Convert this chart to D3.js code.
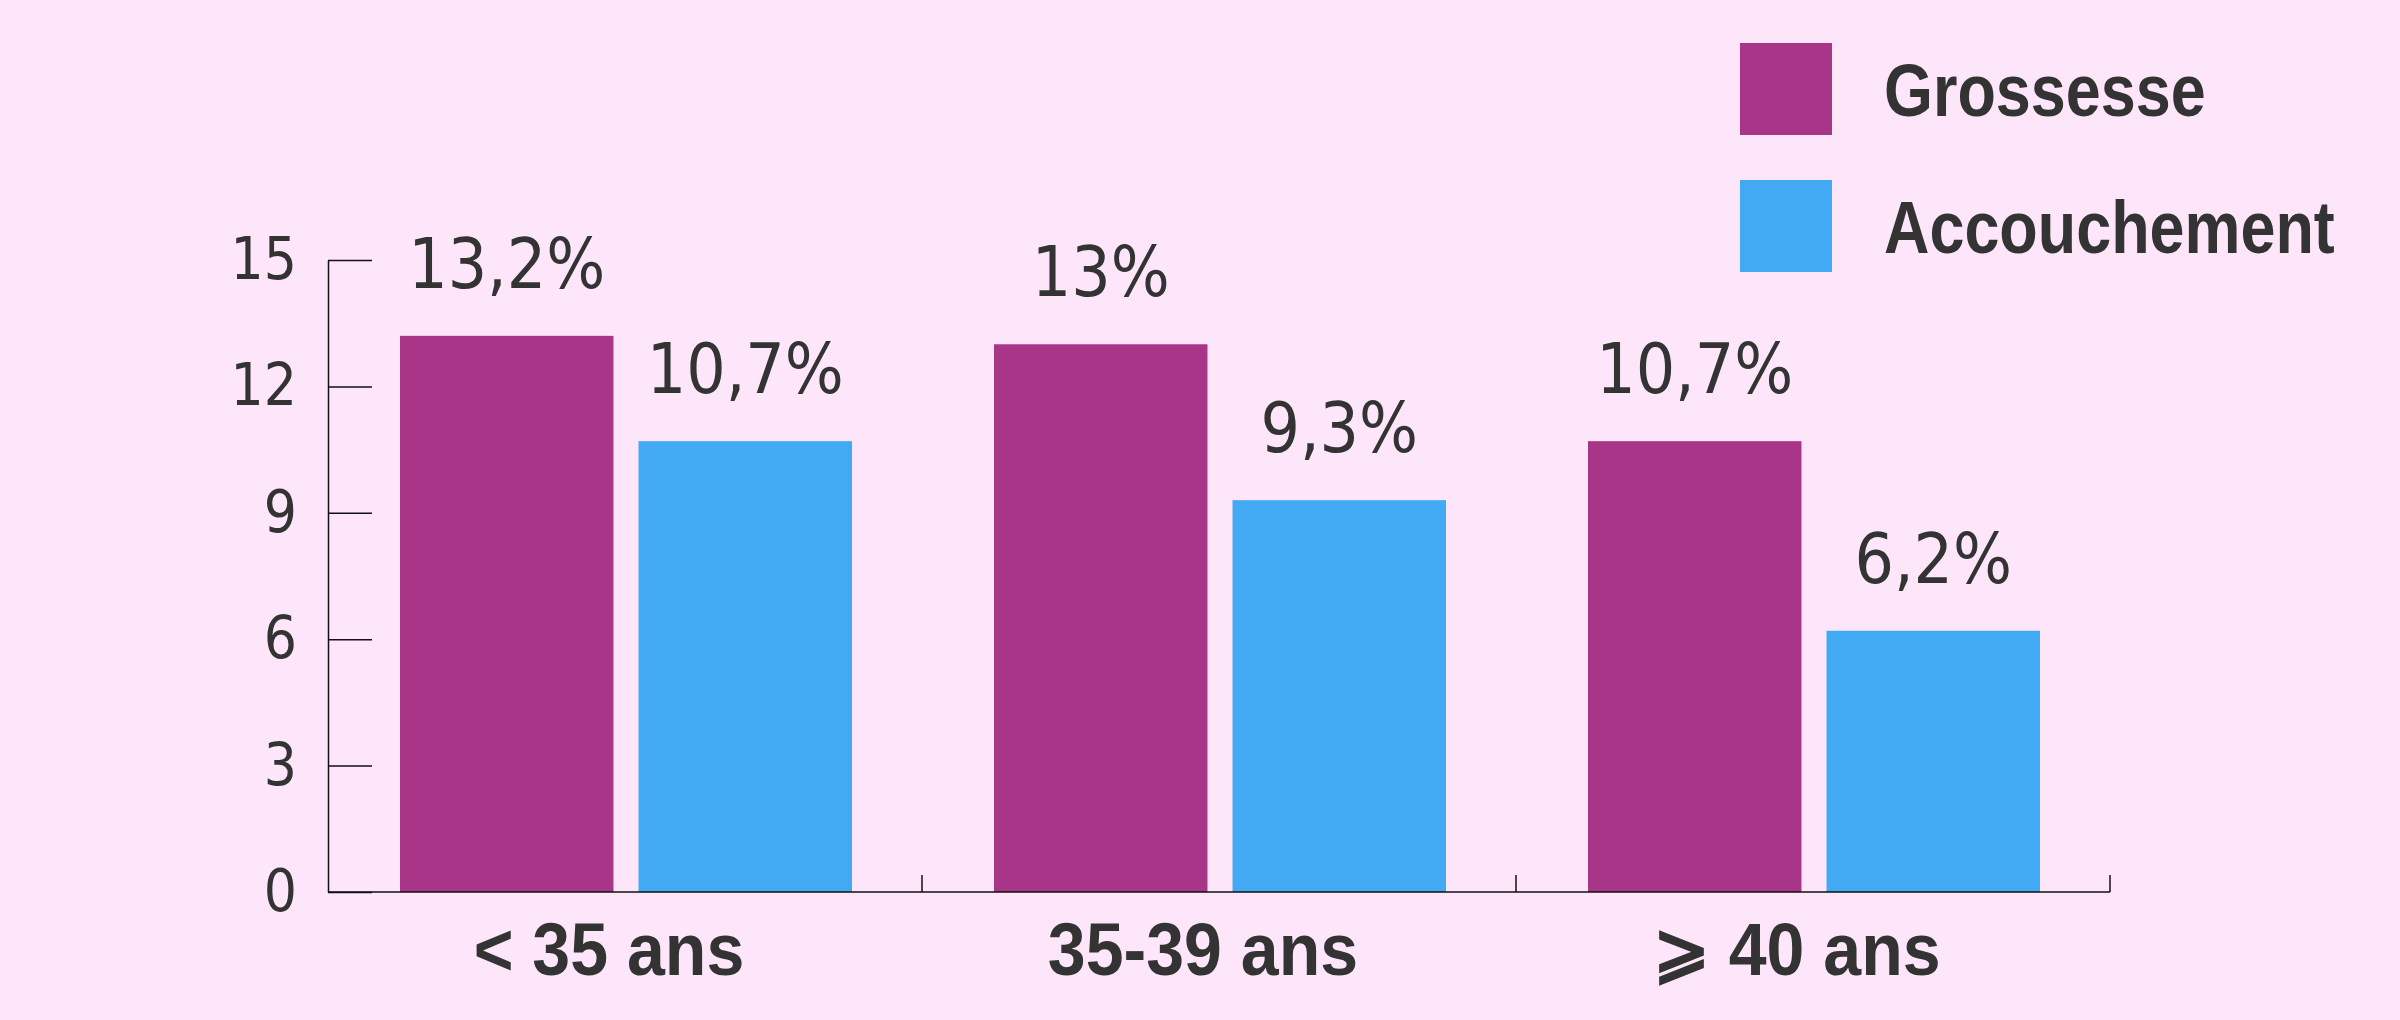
<!DOCTYPE html>
<html>
<head>
<meta charset="utf-8">
<script src="https://cdn.jsdelivr.net/npm/d3@7"></script>
<style>
  html, body { margin: 0; padding: 0; background: #fee6fa; }
  svg { display: block; }
</style>
</head>
<body>
<div id="app"></div>
<script>
// données
const categories = ["< 35 ans", "35-39 ans", "⩾ 40 ans"];
const series = ["Grossesse", "Accouchement"];
const grossesse = [13.2, 13, 10.7];
const accouchement = [10.7, 9.3, 6.2];
const valueLabels = [["13,2%", "10,7%"], ["13%", "9,3%"], ["10,7%", "6,2%"]];
const yTicks = [0, 3, 6, 9, 12, 15];
const colors = ["#a93589", "#42a9f3"];

const width = 2400, height = 1020;
const textColor = "#333333";
const numFont = "'DejaVu Sans Condensed', 'DejaVu Sans', sans-serif";
// pas de police étroite installée : Liberation Sans compressée horizontalement
const boldFont = "'Liberation Sans', Arial, sans-serif";

const svg = d3.select("#app").append("svg")
  .attr("width", width)
  .attr("height", height);

svg.append("rect").attr("width", width).attr("height", height).attr("fill", "#fee6fa");

// échelles
const x0 = d3.scaleBand().domain(categories).range([328, 2110]).padding(0);
const x1 = d3.scaleBand().domain(series).range([72, x0.bandwidth() - 70]).paddingInner(0.105);
const y = d3.scaleLinear().domain([0, 15]).range([892, 260]);

const rows = categories.map((c, i) => ({
  cat: c,
  values: [
    { key: series[0], v: grossesse[i], label: valueLabels[i][0] },
    { key: series[1], v: accouchement[i], label: valueLabels[i][1] }
  ]
}));

// barres
const groups = svg.append("g").selectAll("g")
  .data(rows)
  .join("g")
  .attr("transform", d => `translate(${x0(d.cat)},0)`);

groups.selectAll("rect")
  .data(d => d.values)
  .join("rect")
  .attr("x", d => x1(d.key))
  .attr("y", d => y(d.v))
  .attr("width", x1.bandwidth())
  .attr("height", d => y(0) - y(d.v))
  .attr("fill", (d, i) => colors[i]);

// étiquettes de valeur
groups.selectAll("text")
  .data(d => d.values)
  .join("text")
  .attr("x", d => x1(d.key) + x1.bandwidth() / 2)
  .attr("y", d => y(d.v) - 48)
  .attr("text-anchor", "middle")
  .attr("font-family", numFont)
  .attr("font-size", 69)
  .attr("fill", textColor)
  .text(d => d.label);

// axe Y (graduations vers l'intérieur)
const yAxis = svg.append("g")
  .attr("transform", "translate(328,0)")
  .call(d3.axisLeft(y).tickValues(yTicks).tickSize(-44).tickSizeOuter(0).tickPadding(31));
yAxis.select(".domain").attr("stroke", "#111").attr("stroke-width", 1.5);
yAxis.selectAll(".tick line").attr("stroke", "#111").attr("stroke-width", 1.5);
yAxis.selectAll(".tick text")
  .attr("font-family", numFont)
  .attr("font-size", 58)
  .attr("fill", textColor);

// axe X
const xAxis = svg.append("g");
xAxis.append("line")
  .attr("x1", x0.range()[0]).attr("x2", x0.range()[1])
  .attr("y1", y(0)).attr("y2", y(0))
  .attr("stroke", "#111").attr("stroke-width", 1.5);
xAxis.selectAll("line.tk")
  .data(categories)
  .join("line")
  .attr("class", "tk")
  .attr("x1", d => x0(d) + x0.bandwidth()).attr("x2", d => x0(d) + x0.bandwidth())
  .attr("y1", y(0)).attr("y2", y(0) - 17)
  .attr("stroke", "#111").attr("stroke-width", 1.5);
xAxis.selectAll("text")
  .data(categories)
  .join("text")
  .attr("transform", d => `translate(${x0(d) + x0.bandwidth() / 2 - 16},975) scale(0.92,1)`)
  .attr("text-anchor", "middle")
  .attr("font-family", boldFont)
  .attr("font-weight", "bold")
  .attr("font-size", 74)
  .attr("fill", textColor)
  .text(d => d);

// légende
const legend = svg.append("g").attr("transform", "translate(1740,43)");
const li = legend.selectAll("g")
  .data(series)
  .join("g")
  .attr("transform", (d, i) => `translate(0,${i * 137})`);
li.append("rect")
  .attr("width", 92).attr("height", 92)
  .attr("fill", (d, i) => colors[i]);
li.append("text")
  .attr("transform", "translate(144,73) scale(0.85,1)")
  .attr("font-family", boldFont)
  .attr("font-weight", "bold")
  .attr("font-size", 74)
  .attr("fill", textColor)
  .text(d => d);
</script>
</body>
</html>
